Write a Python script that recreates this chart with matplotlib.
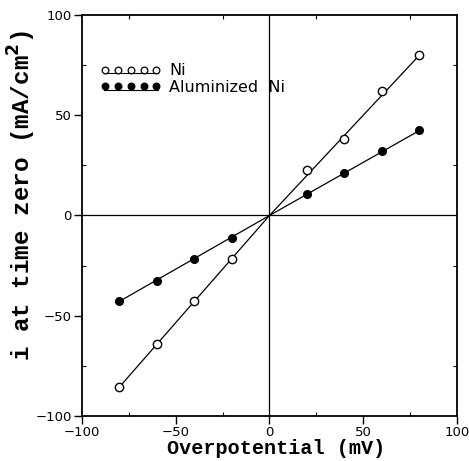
import numpy as np
import matplotlib.pyplot as plt
from matplotlib.lines import Line2D
from matplotlib.legend_handler import HandlerBase
from matplotlib.ticker import MultipleLocator

# Overpotential (mV) and current at time zero (mA/cm^2)
overpotential = [-80, -60, -40, -20, 20, 40, 60, 80]
i_ni = [-85.5, -64, -42.5, -21.5, 22.6, 38.3, 62, 80]
i_al_ni = [-42.8, -32.5, -21.8, -11, 10.5, 21.3, 32, 42.4]


class UnderlinedMarkers(HandlerBase):
    """Five markers in a row with a thin line drawn under them."""

    def create_artists(self, legend, orig_handle, xdescent, ydescent,
                       width, height, fontsize, trans):
        xs = np.linspace(-xdescent + 0.1 * width, -xdescent + 0.9 * width, 5)
        y = height / 2 - ydescent
        marks = Line2D(xs, [y] * 5, ls="none", marker="o", ms=4.8,
                       mfc=orig_handle.get_markerfacecolor(), mec="black",
                       mew=0.9)
        under = Line2D([xs[0] - 1, xs[-1] + 1], [y - 2.8] * 2,
                       color="black", lw=0.8)
        marks.set_transform(trans)
        under.set_transform(trans)
        return [under, marks]


fig = plt.figure(figsize=(4.69, 4.61), dpi=100)
ax = fig.add_axes([0.1748, 0.0976, 0.7996, 0.8699])

# straight lines through the origin
ax.plot([overpotential[0], 0, overpotential[-1]], [i_ni[0], 0, i_ni[-1]],
        color="black", lw=0.9, zorder=2)
ax.plot([overpotential[0], 0, overpotential[-1]], [i_al_ni[0], 0, i_al_ni[-1]],
        color="black", lw=0.9, zorder=2)

h1, = ax.plot(overpotential, i_ni, "o", mfc="white", mec="black", ms=6,
              mew=1.0, ls="none", zorder=3)
h2, = ax.plot(overpotential, i_al_ni, "o", mfc="black", mec="black", ms=5.5,
              ls="none", zorder=3)

ax.axhline(0, color="black", lw=0.9, zorder=1)
ax.axvline(0, color="black", lw=0.9, zorder=1)

ax.set_xlim(-100, 100)
ax.set_ylim(-100, 100)
ax.xaxis.set_major_locator(MultipleLocator(50))
ax.yaxis.set_major_locator(MultipleLocator(50))
ax.xaxis.set_minor_locator(MultipleLocator(25))
ax.yaxis.set_minor_locator(MultipleLocator(25))
ax.tick_params(which="major", direction="out", length=6, width=1, labelsize=9.5,
               pad=1.5)
ax.tick_params(which="minor", direction="in", length=3, width=0.8,
               top=True, right=True)
for s in ax.spines.values():
    s.set_linewidth(1.3)

ax.set_xlabel("Overpotential (mV)", family="Liberation Mono", weight="bold",
              fontsize=14.5)
ax.xaxis.set_label_coords(0.517, -0.058)
ax.set_ylabel("i at time zero (mA/cm$^{\\mathbf{2}}$)", family="Liberation Mono",
              weight="bold", fontsize=17.5)
ax.yaxis.set_label_coords(-0.118, 0.55)

ax.legend([h1, h2], ["Ni", "Aluminized  Ni"], loc="upper left",
          bbox_to_anchor=(0.045, 0.88),
          handler_map={Line2D: UnderlinedMarkers()},
          handlelength=4.0, handletextpad=0.4, frameon=False,
          fontsize=11.5, borderpad=0, borderaxespad=0, labelspacing=0.1)

fig.savefig("out.png", dpi=100)
